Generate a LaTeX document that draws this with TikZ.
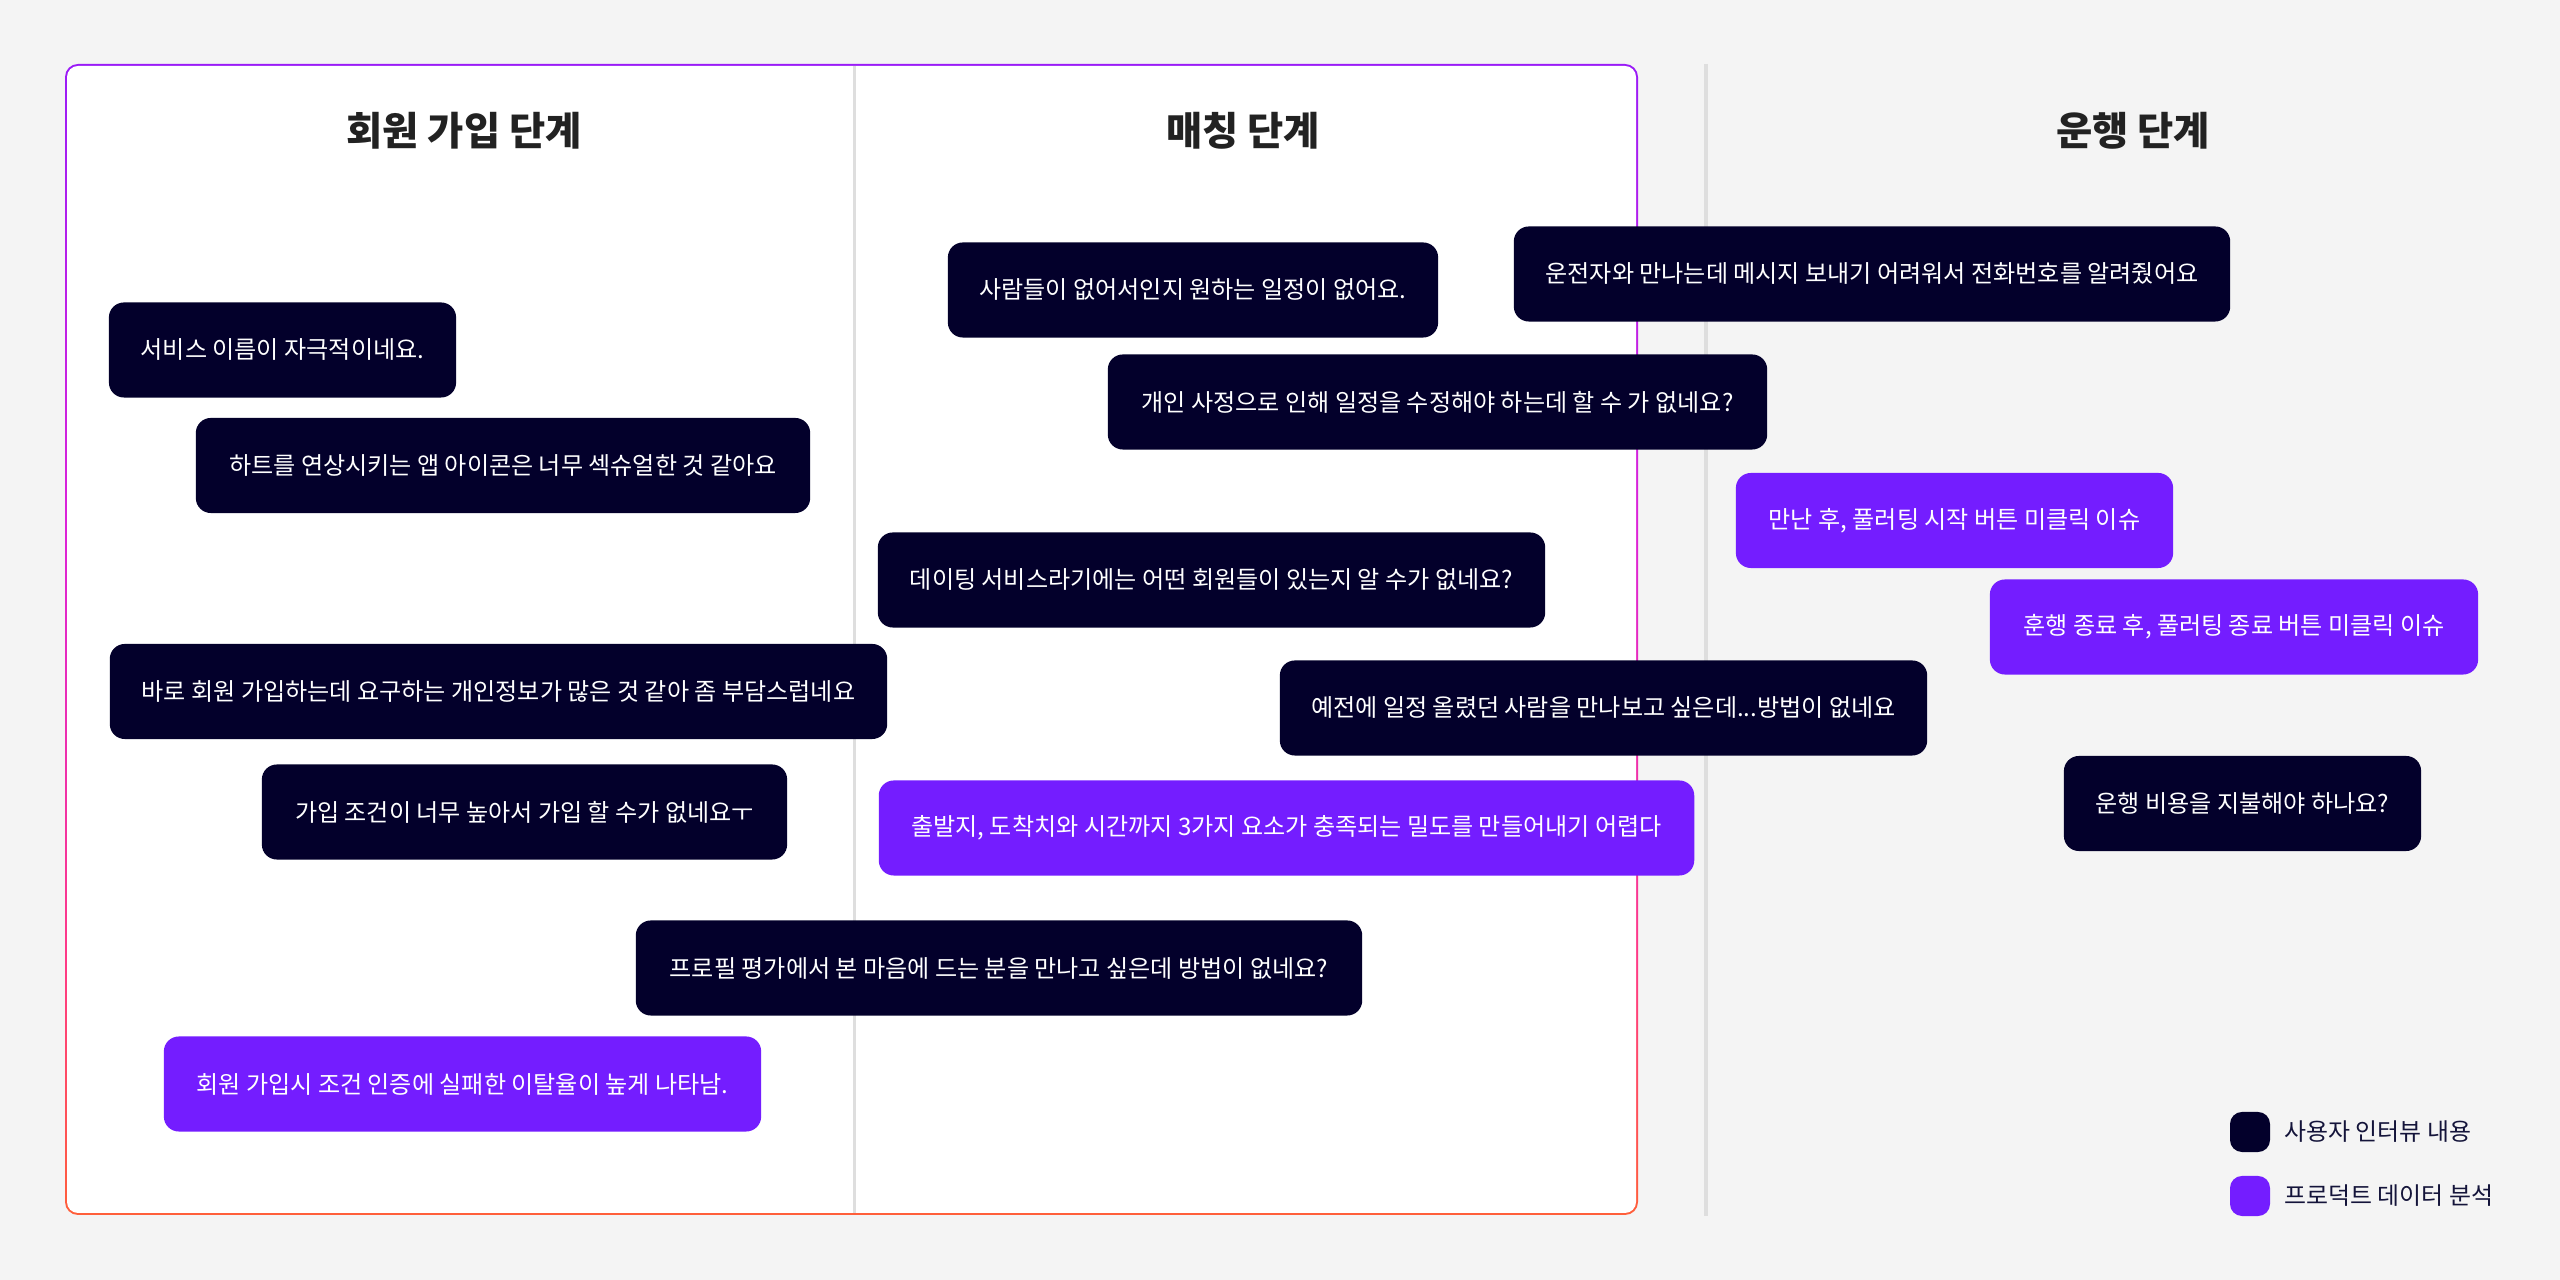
\documentclass[tikz,border=0pt]{standalone}
\usepackage{fontspec}
\setmainfont{Noto Sans CJK KR}
\usetikzlibrary{positioning}

\definecolor{pagebg}{HTML}{F4F4F4}
\definecolor{darkbox}{HTML}{03002B}
\definecolor{purplebox}{HTML}{741DFF}
\definecolor{titlegray}{HTML}{222222}
\definecolor{legendnavy}{HTML}{14143A}
\definecolor{divgray}{HTML}{DEDEDE}
\definecolor{framepurple}{HTML}{9A1BF7}
\definecolor{framemagenta}{HTML}{DC22D8}
\definecolor{framepink}{HTML}{FF3A86}
\definecolor{frameorange}{HTML}{FF5F3A}
\pgfdeclareverticalshading{framegrad}{100bp}{color(0bp)=(frameorange); color(25bp)=(frameorange); color(36bp)=(framepink); color(55bp)=(framemagenta); color(75bp)=(framepurple); color(100bp)=(framepurple)}

\tikzset{
  talk/.style={rounded corners=0.15cm, minimum height=0.95cm, inner sep=0pt, text=white, font=\fontsize{6.85pt}{7.5pt}\selectfont},
  interview/.style={talk, fill=darkbox},
  product/.style={talk, fill=purplebox},
  stagetitle/.style={font=\fontsize{11.2pt}{13pt}\selectfont\bfseries, text=titlegray},
  legendkey/.style={rounded corners=0.12cm, minimum size=0.40cm, inner sep=0pt},
  legendtext/.style={font=\fontsize{6.8pt}{7.5pt}\selectfont, text=legendnavy, inner sep=0pt}
}

\begin{document}
\begin{tikzpicture}[x=0.01cm,y=-0.01cm]
	\useasboundingbox (0,0) rectangle (2560,1280);
	\fill[pagebg] (0,0) rectangle (2560,1280);
	\shade[shading=framegrad, rounded corners=0.13cm] (65,64) rectangle (1638,1215);
	\fill[white, rounded corners=0.11cm] (67,66) rectangle (1636,1213);
	\draw[divgray, line width=0.03cm] (854,66) -- (854,1213);
	\draw[divgray, line width=0.04cm] (1706,64) -- (1706,1216);

	\node[stagetitle] (joinstage) at (464,131) {회원 가입 단계};
	\node[stagetitle] (matchstage) at (1243,131) {매칭 단계};
	\node[stagetitle] (ridestage) at (2133,131) {운행 단계};

	\node[interview, minimum width=3.47cm] (svcname) at (282.5,350) {서비스 이름이 자극적이네요.};
	\node[interview, minimum width=6.14cm] (hearticon) at (503,465.5) {하트를 연상시키는 앱 아이콘은 너무 섹슈얼한 것 같아요};
	\node[interview, minimum width=7.77cm] (privacy) at (498.5,691.5) {바로 회원 가입하는데 요구하는 개인정보가 많은 것 같아 좀 부담스럽네요};
	\node[interview, minimum width=5.25cm] (joincond) at (524.5,812) {가입 조건이 너무 높아서 가입 할 수가 없네요ㅜ};
	\node[interview, minimum width=7.26cm] (profile) at (999,968) {프로필 평가에서 본 마음에 드는 분을 만나고 싶은데 방법이 없네요?};
	\node[product, minimum width=5.97cm] (joinfail) at (462.5,1084) {회원 가입시 조건 인증에 실패한 이탈율이 높게 나타남.};

	\node[interview, minimum width=4.90cm] (noschedule) at (1193,290) {사람들이 없어서인지 원하는 일정이 없어요.};
	\node[interview, minimum width=7.16cm] (drivermsg) at (1872,274) {운전자와 만나는데 메시지 보내기 어려워서 전화번호를 알려줬어요};
	\node[interview, minimum width=6.59cm] (editschedule) at (1437.5,402) {개인 사정으로 인해 일정을 수정해야 하는데 할 수 가 없네요?};
	\node[interview, minimum width=6.67cm] (datingmembers) at (1211.5,580) {데이팅 서비스라기에는 어떤 회원들이 있는지 알 수가 없네요?};
	\node[interview, minimum width=6.47cm] (pastmeet) at (1603.5,708) {예전에 일정 올렸던 사람을 만나보고 싶은데...방법이 없네요};
	\node[product, minimum width=8.15cm] (density) at (1286.5,828) {출발지, 도착치와 시간까지 3가지 요소가 충족되는 밀도를 만들어내기 어렵다};

	\node[product, minimum width=4.37cm] (startbtn) at (1954.5,520.5) {만난 후, 풀러팅 시작 버튼 미클릭 이슈};
	\node[product, minimum width=4.88cm] (endbtn) at (2234,627) {훈행 종료 후, 풀러팅 종료 버튼 미클릭 이슈};
	\node[interview, minimum width=3.57cm] (payment) at (2242.5,803.5) {운행 비용을 지불해야 하나요?};

	\node[legendkey, fill=darkbox] (keyinterview) at (2250,1132) {};
	\node[legendkey, fill=purplebox] (keyproduct) at (2250,1196) {};
	\node[legendtext, right=0.13cm of keyinterview] (labelinterview) {사용자 인터뷰 내용};
	\node[legendtext, right=0.13cm of keyproduct] (labelproduct) {프로덕트 데이터 분석};
\end{tikzpicture}
\end{document}
